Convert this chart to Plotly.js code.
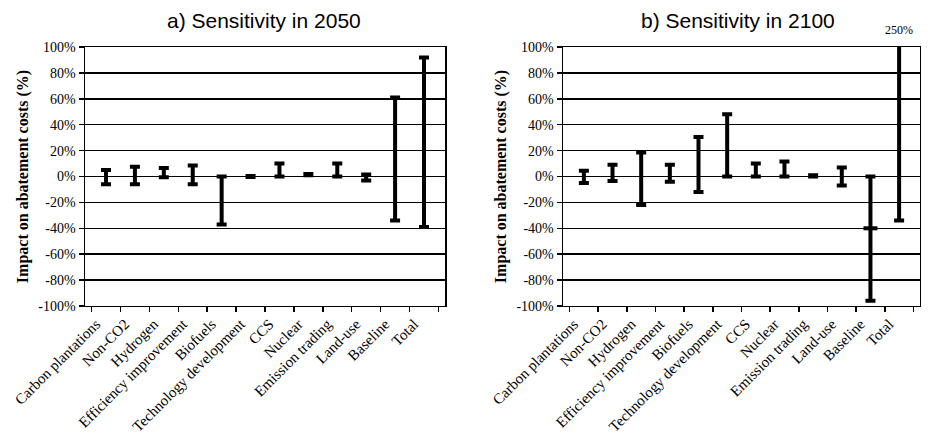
<!DOCTYPE html>
<html>
<head>
<meta charset="utf-8">
<script src="https://cdn.plot.ly/plotly-3.0.1.min.js"></script>
<style>html,body{margin:0;padding:0;background:#fff;}#chart{width:930px;height:437px;}</style>
</head>
<body>
<div id="chart"></div>
<script>
// ---- data ----
const categories = ["Carbon plantations", "Non-CO2", "Hydrogen", "Efficiency improvement", "Biofuels",
  "Technology development", "CCS", "Nuclear", "Emission trading", "Land-use", "Baseline", "Total"];
const low2050  = [-6, -6, -0.5, -6, -37, -0.3, 0, 1, 0, -3, -34, -39];
const high2050 = [5, 7.5, 6.5, 8.5, 0, 0.3, 10, 2, 10, 1.5, 61, 92];
const low2100  = [-5, -3.5, -22, -4, -12, 0, 0, 0, 0, -7, -96, -34];
const high2100 = [4.5, 9, 18.5, 9, 30.5, 48, 10, 11.5, 1, 7, 0, 250];
const baselineMidCategory = ["Baseline"];
const baselineMid2100 = [-40];
const yTickVals = [100, 80, 60, 40, 20, 0, -20, -40, -60, -80, -100];
const yTickText = ["100%", "80%", "60%", "40%", "20%", "0%", "-20%", "-40%", "-60%", "-80%", "-100%"];
const totalLabel = "250%";

function rangeTrace(low, high, xa, ya) {
  return {
    type: "scatter", mode: "markers", x: categories, y: low, xaxis: xa, yaxis: ya,
    marker: {size: 1, color: "rgba(0,0,0,0)"},
    error_y: {type: "data", symmetric: false,
      array: high.map((h, i) => h - low[i]), arrayminus: low.map(() => 0),
      color: "#000", thickness: 4, width: 5},
    showlegend: false, hoverinfo: "skip"
  };
}

const traces = [
  rangeTrace(low2050, high2050, "x", "y"),
  rangeTrace(low2100, high2100, "x2", "y2"),
  {type: "scatter", mode: "markers", x: baselineMidCategory, y: baselineMid2100, xaxis: "x2", yaxis: "y2",
   marker: {symbol: "line-ew", size: 10, line: {width: 4, color: "#000"}}, showlegend: false, hoverinfo: "skip"}
];

const serif = "Liberation Serif, Times New Roman, serif";
function xAxis(domain, anchor) {
  return {domain: domain, anchor: anchor, type: "category", categoryorder: "array", categoryarray: categories,
    tickangle: -45, tickson: "boundaries", ticks: "outside", ticklen: 5, tickwidth: 1.5, tickcolor: "#000",
    ticklabelshift: -10, ticklabelstandoff: 2,
    showline: true, linecolor: "#000", linewidth: 1.5, mirror: true, showgrid: false, automargin: false,
    tickfont: {family: serif, size: 15, color: "#000"}};
}
function yAxis(domain, anchor) {
  return {domain: domain, anchor: anchor, range: [-100, 100], tickvals: yTickVals, ticktext: yTickText,
    ticks: "outside", ticklen: 5, tickwidth: 1.5, tickcolor: "#000",
    showline: true, linecolor: "#000", linewidth: 1.5, mirror: true,
    showgrid: true, gridcolor: "#000", gridwidth: 1.5, zeroline: false, automargin: false,
    tickfont: {family: serif, size: 14, color: "#000"},
    title: {text: "<b>Impact on abatement costs (%)</b>", font: {family: serif, size: 16, color: "#000"}, standoff: 6}};
}

const yDom = [0.2998, 0.8924];
const layout = {
  width: 930, height: 437, margin: {l: 0, r: 0, t: 0, b: 0},
  paper_bgcolor: "#fff", plot_bgcolor: "#fff", showlegend: false,
  xaxis: xAxis([0.0914, 0.4785], "y"),
  yaxis: yAxis(yDom, "x"),
  xaxis2: xAxis([0.6054, 0.9892], "y2"),
  yaxis2: yAxis(yDom, "x2"),
  annotations: [
    {text: "a) Sensitivity in 2050", xref: "paper", yref: "paper", x: 0.284, y: 0.954,
     xanchor: "center", yanchor: "middle", showarrow: false,
     font: {family: "Liberation Sans, Arial, sans-serif", size: 21, color: "#000"}},
    {text: "b) Sensitivity in 2100", xref: "paper", yref: "paper", x: 0.7935, y: 0.954,
     xanchor: "center", yanchor: "middle", showarrow: false,
     font: {family: "Liberation Sans, Arial, sans-serif", size: 21, color: "#000"}},
    {text: totalLabel, xref: "x2", yref: "y2", x: "Total", y: 100, yanchor: "bottom", xanchor: "center",
     yshift: 8, showarrow: false, font: {family: serif, size: 12, color: "#000"}}
  ]
};

Plotly.newPlot("chart", traces, layout, {staticPlot: true, displayModeBar: false});
</script>
</body>
</html>
